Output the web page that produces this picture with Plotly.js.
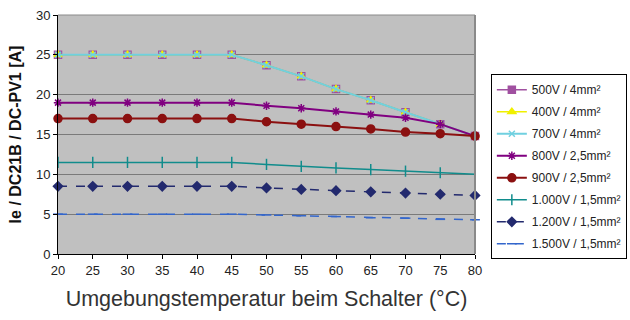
<!DOCTYPE html>
<html>
<head>
<meta charset="utf-8">
<script src="https://cdn.plot.ly/plotly-3.0.1.min.js"></script>
<style>html,body{margin:0;padding:0;background:#fff;}#chart{width:630px;height:320px;}</style>
</head>
<body>
<div id="chart"></div>
<script>
const temps = [20, 25, 30, 35, 40, 45, 50, 55, 60, 65, 70, 75, 80];
const v500 = [25, 25, 25, 25, 25, 25, 23.7, 22.3, 20.7, 19.3, 17.8, 16.3, 14.8];
const v400 = [25, 25, 25, 25, 25, 25, 23.7, 22.3, 20.7, 19.3, 17.8, 16.3, 14.8];
const v700 = [25, 25, 25, 25, 25, 25, 23.7, 22.3, 20.7, 19.3, 17.8, 16.3, 14.8];
const v800 = [19, 19, 19, 19, 19, 19, 18.6, 18.3, 17.9, 17.5, 17.1, 16.3, 14.8];
const v900 = [17, 17, 17, 17, 17, 17, 16.6, 16.3, 16.0, 15.7, 15.3, 15.1, 14.8];
const v1000 = [11.5, 11.5, 11.5, 11.5, 11.5, 11.5, 11.25, 11.0, 10.8, 10.6, 10.4, 10.2, 10.0];
const v1200 = [8.5, 8.5, 8.5, 8.5, 8.5, 8.5, 8.3, 8.1, 7.95, 7.8, 7.65, 7.5, 7.35];
const v1500 = [5, 5, 5, 5, 5, 5, 4.9, 4.8, 4.7, 4.55, 4.5, 4.35, 4.3];
const names = ["500V / 4mm²", "400V / 4mm²", "700V / 4mm²", "800V / 2,5mm²", "900V / 2,5mm²", "1.000V / 1,5mm²", "1.200V / 1,5mm²", "1.500V / 1,5mm²"];
const xTicks = [20, 25, 30, 35, 40, 45, 50, 55, 60, 65, 70, 75, 80];
const yTicks = [0, 5, 10, 15, 20, 25, 30];

const series = [v500, v400, v700, v800, v900, v1000, v1200, v1500];
const styles = [
  {color: "#a050a0", symbol: "square", size: 7, dash: "solid", lw: 1.5},
  {color: "#f0f000", symbol: "triangle-up", size: 7, dash: "solid", lw: 1.5},
  {color: "#70d0e0", symbol: "x-thin", size: 6, dash: "solid", lw: 2},
  {color: "#800080", symbol: "asterisk", size: 7, dash: "solid", lw: 2},
  {color: "#8b1010", symbol: "circle", size: 8, dash: "solid", lw: 2},
  {color: "#108c8c", symbol: "line-ns", size: 8, dash: "solid", lw: 1.5},
  {color: "#232a6e", symbol: "diamond", size: 7, dash: "dash", lw: 1.5},
  {color: "#3366cc", symbol: "line-ew", size: 7, dash: "dash", lw: 1.5}
];

const traces = series.map((ys, i) => ({
  x: temps, y: ys, name: names[i], type: "scatter", mode: "lines+markers",
  legendgroup: "g" + i,
  cliponaxis: false,
  line: {color: styles[i].color, width: styles[i].lw, dash: styles[i].dash},
  marker: {color: styles[i].color, symbol: styles[i].symbol, size: styles[i].size,
           line: {color: styles[i].color, width: 1.5}}
}));

const layout = {
  width: 630, height: 320,
  margin: {l: 58, r: 155, t: 15, b: 66, autoexpand: false},
  paper_bgcolor: "#ffffff", plot_bgcolor: "#c0c0c0",
  font: {family: "Liberation Sans, Arial, sans-serif", color: "#222", size: 13},
  showlegend: true,
  legend: {x: 1.038, y: 0.752, xanchor: "left", yanchor: "top",
           bgcolor: "#ffffff", bordercolor: "#000", borderwidth: 1,
           font: {size: 12, color: "#222"}, tracegroupgap: 3, itemwidth: 30},
  xaxis: {range: [20, 80], tickvals: xTicks, ticktext: xTicks.map(String),
          showgrid: false, zeroline: false, showline: true, linecolor: "#000", linewidth: 1,
          ticks: "outside", ticklen: 4, tickcolor: "#000",
          title: {text: "Umgebungstemperatur beim Schalter (°C)", font: {size: 21.5, color: "#333"}, standoff: 14}},
  yaxis: {range: [0, 30], tickvals: yTicks, ticktext: yTicks.map(String),
          showgrid: true, gridcolor: "#7a7a7a", gridwidth: 1, zeroline: false,
          showline: true, linecolor: "#000", linewidth: 1,
          ticks: "outside", ticklen: 4, tickcolor: "#000",
          title: {text: "<b>Ie / DC21B / DC-PV1 [A]</b>", font: {size: 16, color: "#111"}, standoff: 10}},
  shapes: [
    {type: "line", xref: "paper", yref: "paper", x0: 1, x1: 1, y0: 0, y1: 1, line: {color: "#8a8a8a", width: 2}},
    {type: "line", xref: "paper", yref: "paper", x0: 0, x1: 1, y0: 1, y1: 1, line: {color: "#8a8a8a", width: 1}}
  ]
};

Plotly.newPlot("chart", traces, layout, {displayModeBar: false, staticPlot: true});
</script>
</body>
</html>
